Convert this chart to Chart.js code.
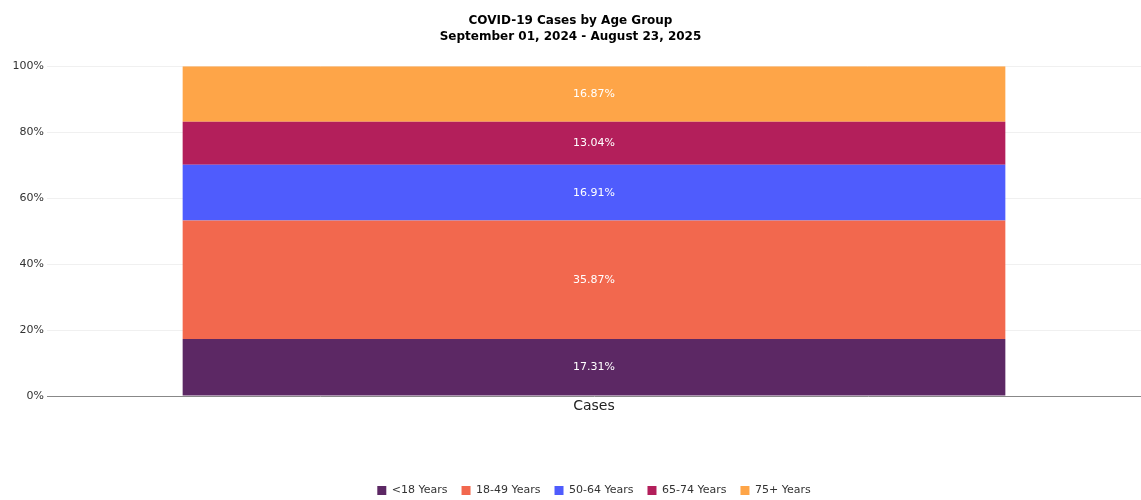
<!DOCTYPE html>
<html>
<head>
<meta charset="utf-8">
<script src="https://cdn.jsdelivr.net/npm/chart.js@4.4.1/dist/chart.umd.min.js"></script>
<style>
  html, body { margin: 0; padding: 0; background: #fff; }
  #wrap { width: 1141px; height: 500px; position: relative; }
</style>
</head>
<body>
<div id="wrap"><canvas id="Chart"></canvas></div>
<script>
const categories = ["Cases"];
const ageGroups = ["<18 Years", "18-49 Years", "50-64 Years", "65-74 Years", "75+ Years"];
const shares = [17.31, 35.87, 16.91, 13.04, 16.87];
const groupColors = ["#5c2864", "#f2684e", "#4f5cfd", "#b31f5b", "#fea548"];
const yTicks = [0, 20, 40, 60, 80, 100];

const fontFamily = "'DejaVu Sans', Verdana, sans-serif";

// write the percent in the middle of every segment
const segmentLabels = {
  id: "segmentLabels",
  afterDatasetsDraw(chart) {
    const ctx = chart.ctx;
    ctx.save();
    ctx.fillStyle = "#ffffff";
    ctx.font = "11px " + fontFamily;
    ctx.textAlign = "center";
    ctx.textBaseline = "middle";
    chart.data.datasets.forEach((ds, i) => {
      const meta = chart.getDatasetMeta(i);
      meta.data.forEach((bar, j) => {
        ctx.fillText(ds.data[j].toFixed(2) + "%", bar.x, (bar.y + bar.base) / 2);
      });
    });
    ctx.restore();
  }
};

new Chart("Chart", {
  type: "bar",
  data: {
    labels: categories,
    datasets: ageGroups.map((g, i) => ({
      label: g,
      data: [shares[i]],
      backgroundColor: groupColors[i],
      borderWidth: 0,
      categoryPercentage: 1,
      barPercentage: 0.752
    }))
  },
  options: {
    responsive: true,
    maintainAspectRatio: false,
    animation: false,
    layout: { padding: { left: 0, right: 0, top: 0, bottom: -6 } },
    plugins: {
      title: {
        display: true,
        text: ["COVID-19 Cases by Age Group", "September 01, 2024 - August 23, 2025"],
        color: "#000",
        font: { family: fontFamily, size: 12, weight: "bold", lineHeight: 1.34 },
        padding: { top: 13, bottom: 21 }
      },
      legend: {
        position: "bottom",
        fullSize: false,
        labels: {
          boxWidth: 9,
          boxHeight: 9,
          padding: 14,
          color: "#333",
          font: { family: fontFamily, size: 11 }
        }
      },
      tooltip: { enabled: false }
    },
    scales: {
      x: {
        stacked: true,
        grid: { display: false, drawTicks: false },
        border: { display: true, color: "#888" },
        ticks: { color: "#222", font: { family: fontFamily, size: 14 }, padding: 2 },
        afterFit(scale) { scale.height = 75; }
      },
      y: {
        stacked: true,
        min: 0,
        max: 100,
        afterBuildTicks(scale) { scale.ticks = yTicks.map(v => ({ value: v })); },
        grid: { color: "#f0f0f0", drawTicks: false },
        border: { display: false },
        ticks: {
          color: "#333",
          padding: 3,
          font: { family: fontFamily, size: 11 },
          callback: v => v + "%"
        },
        afterFit(scale) { scale.width = 47; }
      }
    }
  },
  plugins: [segmentLabels]
});
</script>
</body>
</html>
